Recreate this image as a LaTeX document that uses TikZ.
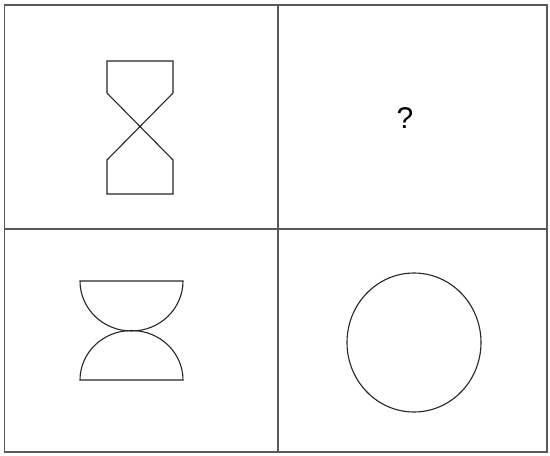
\documentclass[tikz,border=0pt]{standalone}
\usepackage{fontspec}
\setmainfont{Liberation Sans}
\usetikzlibrary{shapes.geometric}
\begin{document}
\begin{tikzpicture}[x=1pt,y=-1pt,
  frame/.style={draw=black!65,line width=1.3pt},
  fig/.style={draw=black!85,line width=1.1pt,line join=miter}]
\useasboundingbox (0,0) rectangle (550,456);
\draw[frame] (4.5,5) rectangle (547,452);
\draw[frame] (278,5) -- (278,452);
\draw[frame] (4.5,229) -- (547,229);
% hourglass
\draw[fig] (107,61) -- (173,61) -- (173,93) -- (107,160) -- (107,194) -- (173,194) -- (173,160) -- (107,93) -- cycle;
% half-ellipses
\draw[fig] (80,281) -- (183,281) arc[start angle=0,end angle=180,x radius=51.5,y radius=50] -- cycle;
\draw[fig] (80,380) -- (183,380) arc[start angle=0,end angle=-180,x radius=51.5,y radius=49.5] -- cycle;
% circle
\node[fig,draw,ellipse,inner sep=0pt,minimum width=134pt,minimum height=139pt] (c) at (414,342.5) {};
% question mark
\node[inner sep=0pt,font=\fontsize{30}{32}\selectfont] (q) at (405,118) {?};
\end{tikzpicture}
\end{document}
